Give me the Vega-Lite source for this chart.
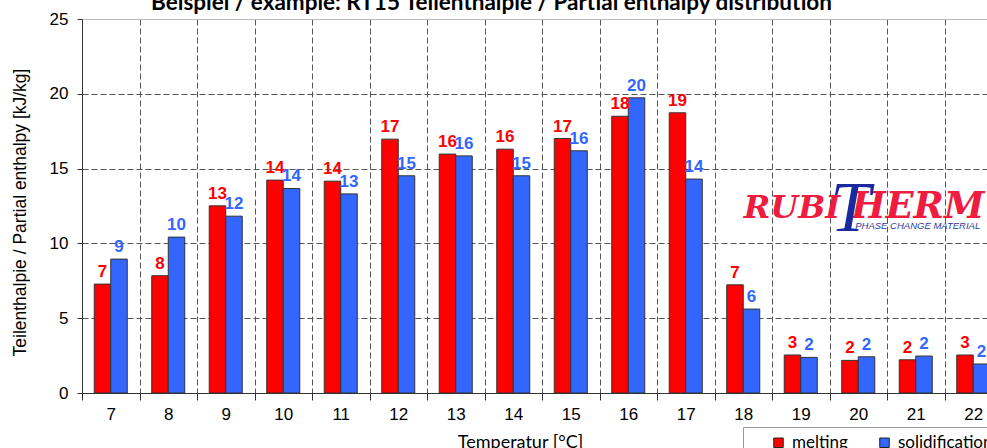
{
  "$schema": "https://vega.github.io/schema/vega-lite/v6.json",
  "autosize": "none",
  "width": 905,
  "height": 374,
  "padding": {"left": 82, "top": 19, "right": 0, "bottom": 55},
  "background": "white",
  "config": {"view": {"stroke": null}},
  "title": {
    "text": "Beispiel / example: RT15 Teilenthalpie / Partial enthalpy distribution",
    "font": "Lato", "fontSize": 22.5, "fontWeight": "bold", "color": "#000000",
    "anchor": "middle", "frame": "group", "dx": -43, "offset": -22, "baseline": "alphabetic"
  },
  "datasets": {
    "enthalpy": [
      {"T": "7", "series": "melting", "value": 7.28, "label": "7"},
      {"T": "7", "series": "solidification", "value": 8.95, "label": "9"},
      {"T": "8", "series": "melting", "value": 7.84, "label": "8"},
      {"T": "8", "series": "solidification", "value": 10.42, "label": "10"},
      {"T": "9", "series": "melting", "value": 12.51, "label": "13"},
      {"T": "9", "series": "solidification", "value": 11.82, "label": "12"},
      {"T": "10", "series": "melting", "value": 14.23, "label": "14"},
      {"T": "10", "series": "solidification", "value": 13.67, "label": "14"},
      {"T": "11", "series": "melting", "value": 14.16, "label": "14"},
      {"T": "11", "series": "solidification", "value": 13.31, "label": "13"},
      {"T": "12", "series": "melting", "value": 16.97, "label": "17"},
      {"T": "12", "series": "solidification", "value": 14.52, "label": "15"},
      {"T": "13", "series": "melting", "value": 15.97, "label": "16"},
      {"T": "13", "series": "solidification", "value": 15.85, "label": "16"},
      {"T": "14", "series": "melting", "value": 16.3, "label": "16"},
      {"T": "14", "series": "solidification", "value": 14.52, "label": "15"},
      {"T": "15", "series": "melting", "value": 17.01, "label": "17"},
      {"T": "15", "series": "solidification", "value": 16.19, "label": "16"},
      {"T": "16", "series": "melting", "value": 18.5, "label": "18"},
      {"T": "16", "series": "solidification", "value": 19.73, "label": "20"},
      {"T": "17", "series": "melting", "value": 18.73, "label": "19"},
      {"T": "17", "series": "solidification", "value": 14.3, "label": "14"},
      {"T": "18", "series": "melting", "value": 7.23, "label": "7"},
      {"T": "18", "series": "solidification", "value": 5.61, "label": "6"},
      {"T": "19", "series": "melting", "value": 2.54, "label": "3"},
      {"T": "19", "series": "solidification", "value": 2.38, "label": "2"},
      {"T": "20", "series": "melting", "value": 2.18, "label": "2"},
      {"T": "20", "series": "solidification", "value": 2.42, "label": "2"},
      {"T": "21", "series": "melting", "value": 2.22, "label": "2"},
      {"T": "21", "series": "solidification", "value": 2.47, "label": "2"},
      {"T": "22", "series": "melting", "value": 2.54, "label": "3"},
      {"T": "22", "series": "solidification", "value": 1.94, "label": "2"}
    ],
    "logo": [{"T": "20", "value": 12.4}]
  },
  "layer": [
    {
      "data": {"name": "enthalpy"},
      "mark": {"type": "bar", "stroke": "#333333", "strokeWidth": 1},
      "encoding": {
        "x": {
          "field": "T", "type": "nominal",
          "scale": {"domain": ["7","8","9","10","11","12","13","14","15","16","17","18","19","20","21","22"], "range": [0, 920], "paddingInner": 0, "paddingOuter": 0},
          "axis": {
            "title": "Temperatur [°C]", "labelAngle": 0,
            "labelFont": "Liberation Sans", "labelFontSize": 17, "labelColor": "#000000", "labelPadding": 6,
            "tickSize": 7, "tickBand": "extent", "tickColor": "#333333", "domainColor": "#333333",
            "grid": true, "gridColor": "#555555", "gridDash": [6, 3],
            "titleFont": "Lato", "titleFontSize": 18, "titleFontWeight": "normal", "titleColor": "#000000",
            "titleX": 438, "titleY": 40, "titleBaseline": "top", "titleAlign": "center"
          }
        },
        "xOffset": {"field": "series", "type": "nominal", "scale": {"domain": ["melting", "solidification"], "paddingInner": 0, "paddingOuter": 0.742}},
        "y": {
          "field": "value", "type": "quantitative",
          "scale": {"domain": [0, 25], "nice": false},
          "axis": {
            "title": "Teilenthalpie / Partial enthalpy [kJ/kg]", "values": [0, 5, 10, 15, 20, 25],
            "titleFont": "Liberation Sans", "titleFontSize": 17.5, "titleFontWeight": "normal", "titleColor": "#000000",
            "titleX": -62, "titleY": 193, "titleAngle": -90, "titleAlign": "center", "titleBaseline": "middle",
            "labelFont": "Liberation Sans", "labelFontSize": 17, "labelColor": "#000000", "labelPadding": 9,
            "tickSize": 5, "tickColor": "#333333", "domainColor": "#333333",
            "grid": true,
            "gridColor": {"condition": {"test": "datum.value >= 25", "value": "#bbbbbb"}, "value": "#555555"},
            "gridDash": {"condition": {"test": "datum.value >= 25", "value": []}, "value": [6, 3]}
          }
        },
        "color": {
          "field": "series", "type": "nominal",
          "scale": {"domain": ["melting", "solidification"], "range": ["#ff0000", "#3366ff"]},
          "legend": {
            "orient": "none", "legendX": 661, "legendY": 408, "direction": "horizontal",
            "title": " ", "titleOrient": "left", "titlePadding": 20,
            "strokeColor": "#999999", "fillColor": "#ffffff", "padding": 7,
            "symbolType": "square", "symbolSize": 90, "symbolStrokeColor": "#222222", "symbolStrokeWidth": 1,
            "labelFont": "Lato", "labelFontSize": 17, "labelColor": "#000000", "labelOffset": 5, "columnPadding": 28
          }
        }
      }
    },
    {
      "data": {"name": "enthalpy"},
      "mark": {"type": "text", "font": "Liberation Sans", "fontSize": 17, "fontWeight": "bold", "baseline": "alphabetic", "dy": -7},
      "encoding": {
        "x": {"field": "T", "type": "nominal"},
        "xOffset": {"field": "series", "type": "nominal"},
        "y": {"field": "value", "type": "quantitative"},
        "text": {"field": "label"},
        "color": {"field": "series", "type": "nominal", "legend": null}
      }
    },
    {
      "data": {"name": "logo"},
      "mark": {"type": "text", "text": "RUBI", "font": "DejaVu Serif", "fontStyle": "italic", "fontWeight": "bold", "fontSize": 32, "color": "#ee1c3e", "align": "right", "baseline": "alphabetic", "dx": -18, "dy": 10.5},
      "encoding": {"x": {"field": "T", "type": "nominal"}, "y": {"field": "value", "type": "quantitative"}}
    },
    {
      "data": {"name": "logo"},
      "mark": {"type": "text", "text": "HERM", "font": "DejaVu Serif", "fontStyle": "italic", "fontWeight": "bold", "fontSize": 36.5, "color": "#ee1c3e", "align": "left", "baseline": "alphabetic", "dx": -7, "dy": 10.5},
      "encoding": {"x": {"field": "T", "type": "nominal"}, "y": {"field": "value", "type": "quantitative"}}
    },
    {
      "data": {"name": "logo"},
      "mark": {"type": "text", "text": "T", "font": "Liberation Serif", "fontStyle": "italic", "fontWeight": "normal", "fontSize": 72, "color": "#1a2a9e", "align": "center", "baseline": "alphabetic", "dx": -8, "dy": 24},
      "encoding": {"x": {"field": "T", "type": "nominal"}, "y": {"field": "value", "type": "quantitative"}}
    },
    {
      "data": {"name": "logo"},
      "mark": {"type": "text", "text": "PHASE CHANGE MATERIAL", "font": "Liberation Sans", "fontStyle": "italic", "fontSize": 9.5, "color": "#2b3a9b", "align": "left", "baseline": "alphabetic", "dx": -3, "dy": 21.5},
      "encoding": {"x": {"field": "T", "type": "nominal"}, "y": {"field": "value", "type": "quantitative"}}
    }
  ]
}
